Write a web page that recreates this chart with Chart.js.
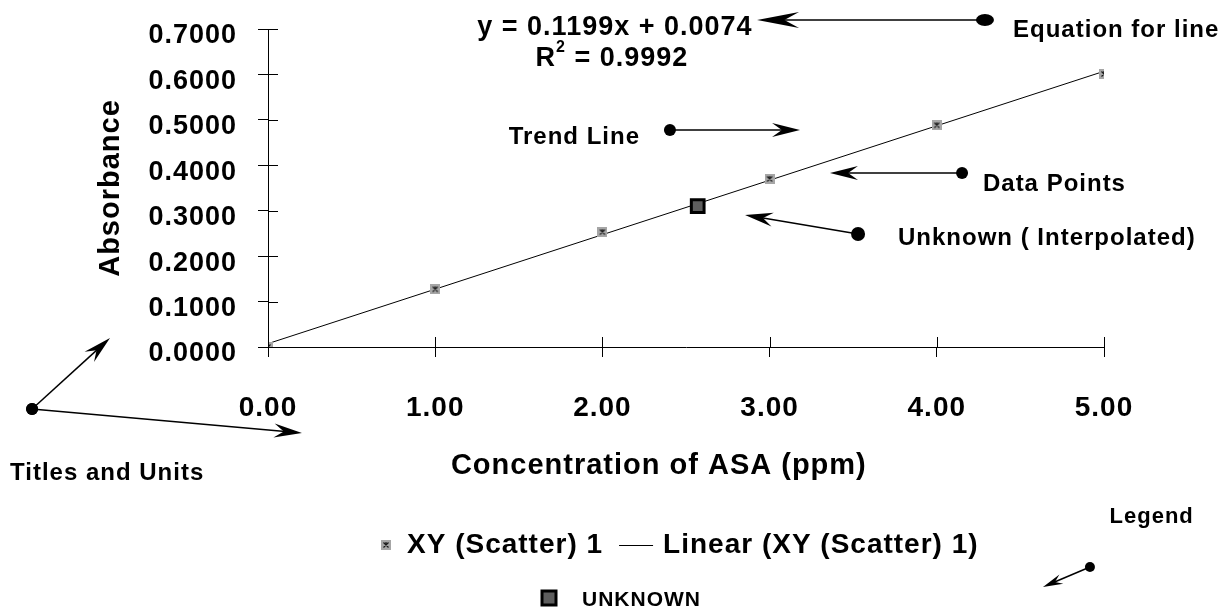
<!DOCTYPE html>
<html><head><meta charset="utf-8">
<script src="https://cdn.jsdelivr.net/npm/chart.js@4.4.1/dist/chart.umd.min.js"></script>
<style>html,body{margin:0;padding:0;background:#fff;overflow:hidden}#wrap{width:1220px;height:612px;position:relative}canvas{display:block}</style>
</head><body><div id="wrap"><canvas id="c" width="1220" height="612" style="width:1220px;height:612px"></canvas></div>
<script>
// ---- data ----
const concentrations = [0, 1, 2, 3, 4, 5];
const absorbances = [0.000, 0.127, 0.253, 0.370, 0.488, 0.601];
const trendX = [0, 5];
const trendY = [0.0074, 0.6069];
const unknownX = [2.57];
const unknownY = [0.310];
const xTickValues = [0, 1, 2, 3, 4, 5];
const yTickValues = [0, 0.1, 0.2, 0.3, 0.4, 0.5, 0.6, 0.7];
const seriesLabels = ['XY (Scatter) 1', 'Linear (XY (Scatter) 1)', 'UNKNOWN'];
const xTitle = 'Concentration of ASA (ppm)';
const yTitle = 'Absorbance';
const equationText = 'y = 0.1199x + 0.0074';
const r2Value = '0.9992';

const FAM = '"Liberation Sans", Arial, sans-serif';
Chart.defaults.font.family = FAM;
Chart.defaults.color = '#000';

// marker image for data points: gray square with dark cross
const mk = document.createElement('canvas');
mk.width = 10; mk.height = 10;
(function(){const g = mk.getContext('2d');
 g.fillStyle = '#a6a6a6'; g.fillRect(0,0,10,10);
 g.strokeStyle = '#1a1a1a'; g.lineWidth = 1.2;
 g.beginPath(); g.moveTo(2.5,2.5); g.lineTo(7.5,7.5); g.moveTo(7.5,2.5); g.lineTo(2.5,7.5); g.moveTo(5,2); g.lineTo(5,4.5); g.stroke();})();

// annotation layout (data units, converted via scales)
const notes = [
  {text: 'Equation for line', x: 4.456, y: 0.698, align: 'left', size: 24},
  {text: 'Trend Line', x: 2.225, y: 0.462, align: 'right', size: 24},
  {text: 'Data Points', x: 4.276, y: 0.357, align: 'left', size: 24},
  {text: 'Unknown ( Interpolated)', x: 3.768, y: 0.240, align: 'left', size: 24},
  {text: 'Titles and Units', x: -1.543, y: -0.279, align: 'left', size: 24},
  {text: 'Legend', x: 5.285, y: -0.374, align: 'center', size: 22}
];
const pointers = [
  {from: [4.288, 0.7198], to: [2.925, 0.7198], dot: [9, 6], head: [42, 16]},
  {from: [2.404, 0.4777], to: [3.182, 0.4777], dot: [6, 6], head: [28, 14]},
  {from: [4.151, 0.383], to: [3.361, 0.383], dot: [6, 6], head: [28, 14]},
  {from: [3.529, 0.2487], to: [2.853, 0.2906], dot: [7, 7], head: [28, 14]},
  {from: [-1.411, -0.1365], to: [-0.945, 0.0198], dot: [6, 6], head: [28, 14]},
  {from: [-1.411, -0.1365], to: [0.203, -0.1893], dot: [6, 6], head: [28, 14]},
  {from: [4.916, -0.4843], to: [4.635, -0.5283], dot: [5, 5], head: [20, 10]}
];

const spacing = {
  id: 'spacing',
  beforeUpdate(c){ c.ctx.letterSpacing = '1px'; },
  beforeLayout(c){ c.ctx.letterSpacing = '1px'; },
  beforeDraw(c){ c.ctx.letterSpacing = '1px'; }
};

const extras = {
  id: 'extras',
  afterDraw(c){
    const ctx = c.ctx, xs = c.scales.x, ys = c.scales.y, ca = c.chartArea;
    const P = (x, y) => [xs.getPixelForValue(x), ys.getPixelForValue(y)];
    ctx.save();
    ctx.letterSpacing = '1px';
    // inner half of the crossing tick marks
    ctx.strokeStyle = '#000'; ctx.lineWidth = 1;
    ctx.beginPath();
    yTickValues.forEach(v => { const y = Math.round(ys.getPixelForValue(v)) + 0.5; ctx.moveTo(ca.left, y); ctx.lineTo(ca.left + 10, y); });
    xTickValues.forEach(v => { const x = Math.round(xs.getPixelForValue(v)) + 0.5; ctx.moveTo(x, ca.bottom); ctx.lineTo(x, ca.bottom - 10); });
    ctx.stroke();

    // equation + R^2
    ctx.fillStyle = '#000'; ctx.textBaseline = 'middle';
    ctx.font = 'bold 27px ' + FAM;
    let [ex, ey] = P(2.075, 0.7022);
    ctx.textAlign = 'center'; ctx.fillText(equationText, ex, ey);
    let [rx, ry] = P(2.057, 0.636);
    ctx.textAlign = 'left';
    const wR = ctx.measureText('R').width;
    const rest = ' = ' + r2Value;
    const wRest = ctx.measureText(rest).width;
    ctx.font = 'bold 16px ' + FAM;
    const w2 = ctx.measureText('2').width;
    let sx = rx - (wR + w2 + wRest) / 2;
    ctx.font = 'bold 27px ' + FAM;
    ctx.fillText('R', sx, ry);
    ctx.font = 'bold 16px ' + FAM;
    ctx.fillText('2', sx + wR, ry - 10);
    ctx.font = 'bold 27px ' + FAM;
    ctx.fillText(rest, sx + wR + w2, ry);

    // labels
    notes.forEach(n => {
      const [x, y] = P(n.x, n.y);
      ctx.font = 'bold ' + n.size + 'px ' + FAM;
      ctx.textAlign = n.align;
      ctx.fillText(n.text, x, y);
    });
    // pointers
    pointers.forEach(p => {
      const [x1, y1] = P(p.from[0], p.from[1]);
      const [x2, y2] = P(p.to[0], p.to[1]);
      const dx = x2 - x1, dy = y2 - y1, L = Math.hypot(dx, dy);
      const ux = dx / L, uy = dy / L, px = -uy, py = ux;
      const [hl, hw] = p.head;
      ctx.strokeStyle = '#000'; ctx.lineWidth = 1.5;
      ctx.beginPath(); ctx.moveTo(x1, y1); ctx.lineTo(x2 - ux * hl * 0.6, y2 - uy * hl * 0.6); ctx.stroke();
      ctx.beginPath();
      ctx.moveTo(x2, y2);
      ctx.lineTo(x2 - ux * hl + px * hw / 2, y2 - uy * hl + py * hw / 2);
      ctx.lineTo(x2 - ux * hl * 0.65, y2 - uy * hl * 0.65);
      ctx.lineTo(x2 - ux * hl - px * hw / 2, y2 - uy * hl - py * hw / 2);
      ctx.closePath(); ctx.fill();
      ctx.beginPath(); ctx.ellipse(x1, y1, p.dot[0], p.dot[1], 0, 0, Math.PI * 2); ctx.fill();
    });

    // legend
    const ds = c.data.datasets;
    ctx.textAlign = 'left';
    ctx.font = 'bold 28px ' + FAM;
    let lx = 381, ly = 545;
    ctx.drawImage(mk, lx, ly - 5, 10, 10);
    lx += 26;
    ctx.fillText(ds[0].label, lx, ly);
    lx += ctx.measureText(ds[0].label).width + 16;
    ctx.strokeStyle = '#000'; ctx.lineWidth = 1;
    ctx.beginPath(); ctx.moveTo(lx, ly + 0.5); ctx.lineTo(lx + 34, ly + 0.5); ctx.stroke();
    lx += 44;
    ctx.fillText(ds[1].label, lx, ly);
    // unknown row
    const uy2 = 598;
    ctx.fillStyle = '#5e5e5e'; ctx.fillRect(542, uy2 - 7, 14, 14);
    ctx.strokeStyle = '#000'; ctx.lineWidth = 3; ctx.strokeRect(542, uy2 - 7, 14, 14);
    ctx.fillStyle = '#000';
    ctx.font = 'bold 21px ' + FAM;
    ctx.fillText(ds[2].label, 582, uy2 + 2);
    ctx.restore();
  }
};

new Chart(document.getElementById('c'), {
  type: 'scatter',
  data: {
    datasets: [
      {label: seriesLabels[0], data: concentrations.map((x, i) => ({x, y: absorbances[i]})),
       pointStyle: mk, pointRadius: 5, order: 2},
      {label: seriesLabels[1], type: 'line', data: trendX.map((x, i) => ({x, y: trendY[i]})),
       borderColor: '#000', borderWidth: 1, pointRadius: 0, fill: false, order: 3},
      {label: seriesLabels[2], data: unknownX.map((x, i) => ({x, y: unknownY[i]})),
       pointStyle: 'rect', pointRadius: 9, backgroundColor: '#5e5e5e', borderColor: '#000', borderWidth: 3, order: 1}
    ]
  },
  options: {
    responsive: false, maintainAspectRatio: false, animation: false, devicePixelRatio: 1,
    layout: {padding: {left: 90, right: 116, top: 29, bottom: 125}},
    plugins: {legend: {display: false}, tooltip: {enabled: false}},
    scales: {
      x: {type: 'linear', min: 0, max: 5,
          afterBuildTicks: s => { s.ticks = xTickValues.map(v => ({value: v})); },
          afterFit: s => { s.height = 140; s.paddingLeft = 0; s.paddingRight = 0; },
          ticks: {callback: v => Number(v).toFixed(2), font: {size: 28, weight: 'bold'}, padding: 34, maxRotation: 0, color: '#000'},
          grid: {drawOnChartArea: false, drawTicks: true, tickLength: 10, color: '#000'},
          border: {display: true, color: '#000', width: 1},
          title: {display: true, text: xTitle + '      ', font: {size: 29, weight: 'bold'}, padding: {top: 4, bottom: 4}, color: '#000'}},
      y: {type: 'linear', min: 0, max: 0.7,
          afterBuildTicks: s => { s.ticks = yTickValues.map(v => ({value: v})); },
          afterFit: s => { s.width = 178; s.paddingTop = 0; s.paddingBottom = 0; },
          ticks: {callback: v => Number(v).toFixed(4), font: {size: 27, weight: 'bold'}, padding: 21, labelOffset: 7, color: '#000'},
          grid: {drawOnChartArea: false, drawTicks: true, tickLength: 10, color: '#000'},
          border: {display: true, color: '#000', width: 1},
          title: {display: true, text: yTitle, font: {size: 29, weight: 'bold'}, padding: {top: 4, bottom: 4}, color: '#000'}}
    }
  },
  plugins: [spacing, extras]
});
</script></body></html>
